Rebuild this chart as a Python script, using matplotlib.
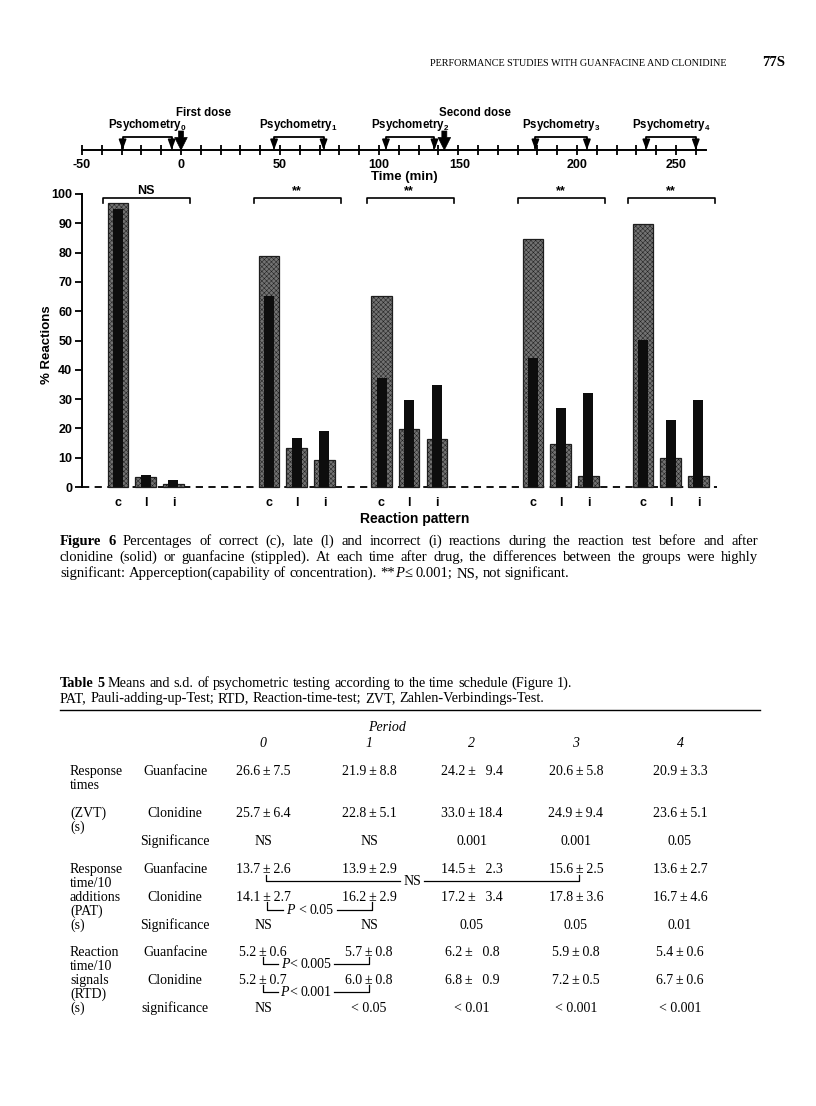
import matplotlib
matplotlib.use('Agg')
import matplotlib.pyplot as plt

plt.rcParams['hatch.linewidth'] = 0.35
plt.rcParams['mathtext.fontset'] = 'custom'
plt.rcParams['mathtext.rm'] = 'Liberation Sans:bold'
plt.rcParams['mathtext.it'] = 'Liberation Sans:bold'
plt.rcParams['mathtext.bf'] = 'Liberation Sans:bold'

# ---------------- data ----------------
categories = ['c', 'l', 'i']
guanfacine_pct = [[97.0, 3.4, 1.1],
                  [79.0, 13.2, 9.2],
                  [65.3, 19.7, 16.5],
                  [84.8, 14.7, 3.7],
                  [89.9, 10.0, 3.7]]
clonidine_pct = [[95.0, 4.0, 2.4],
                 [65.3, 16.7, 19.2],
                 [37.3, 29.6, 34.7],
                 [43.9, 26.8, 32.1],
                 [50.3, 22.7, 29.7]]
significance = ['NS', '**', '**', '**', '**']
y_ticks = [0, 10, 20, 30, 40, 50, 60, 70, 80, 90, 100]

time_labels = [-50, 0, 50, 100, 150, 200, 250]
psychometry_windows = [(-29.5, -4.7), (47.0, 72.0), (103.5, 128.0), (179.0, 205.0), (235.0, 260.0)]
dose_times = [0, 133]
dose_labels = ['First dose', 'Second dose']

TS = '\u2009'
PM = TS + '\u00b1' + TS
period_labels = ['0', '1', '2', '3', '4']
zvt_guanfacine = ['26.6' + PM + '7.5', '21.9' + PM + '8.8', '24.2' + PM + '  9.4', '20.6' + PM + '5.8', '20.9' + PM + '3.3']
zvt_clonidine = ['25.7' + PM + '6.4', '22.8' + PM + '5.1', '33.0' + PM + '18.4', '24.9' + PM + '9.4', '23.6' + PM + '5.1']
zvt_signif = ['NS', 'NS', '0.001', '0.001', '0.05']
pat_guanfacine = ['13.7' + PM + '2.6', '13.9' + PM + '2.9', '14.5' + PM + '  2.3', '15.6' + PM + '2.5', '13.6' + PM + '2.7']
pat_clonidine = ['14.1' + PM + '2.7', '16.2' + PM + '2.9', '17.2' + PM + '  3.4', '17.8' + PM + '3.6', '16.7' + PM + '4.6']
pat_signif = ['NS', 'NS', '0.05', '0.05', '0.01']
rtd_guanfacine = ['5.2' + PM + '0.6', '5.7' + PM + '0.8', '6.2' + PM + '  0.8', '5.9' + PM + '0.8', '5.4' + PM + '0.6']
rtd_clonidine = ['5.2' + PM + '0.7', '6.0' + PM + '0.8', '6.8' + PM + '  0.9', '7.2' + PM + '0.5', '6.7' + PM + '0.6']
rtd_signif = ['NS', '< 0.05', '< 0.01', '< 0.001', '< 0.001']

# ---------------- page ----------------
W, H = 816, 1106
fig = plt.figure(figsize=(W / 100, H / 100), dpi=100)
fig.patch.set_facecolor('white')
renderer = fig.canvas.get_renderer()

axP = fig.add_axes([0, 0, 1, 1])
axP.set_xlim(0, W)
axP.set_ylim(H, 0)
axP.axis('off')

SANS = 'Liberation Sans'
SERIF = ['Liberation Serif', 'DejaVu Serif']


def T(x, y, s, size=10, family=SERIF, weight='normal', style='normal', ha='left', va='baseline', **kw):
    return axP.text(x, y, s, fontsize=size, family=family, weight=weight, style=style,
                    ha=ha, va=va, **kw)


def wpx(t):
    return t.get_window_extent(renderer).width


def fitT(x0, x1, y, s, **kw):
    t = T(x0, y, s, size=10, **kw)
    t.set_fontsize(10 * (x1 - x0) / wpx(t))
    return t


def run(x, y, segs, size=10, family=SERIF, x_end=None):
    words = []
    for seg in segs:
        text, wt, st = seg[:3]
        glue = seg[3] if len(seg) > 3 else False
        parts = [p for p in text.split(' ') if p != '']
        for k, p in enumerate(parts):
            if k == 0 and glue and words:
                words[-1].append((p, wt, st))
            else:
                words.append([(p, wt, st)])
    objs, lens = [], []
    for w in words:
        pieces, tot = [], 0.0
        for p, wt, st in w:
            t = T(0, y, p, size=size, family=family, weight=wt, style=st)
            wd = wpx(t)
            pieces.append((t, wd))
            tot += wd
        objs.append(pieces)
        lens.append(tot)
    a = T(0, y, 'a a', size=size, family=family)
    b = T(0, y, 'aa', size=size, family=family)
    sp = wpx(a) - wpx(b)
    a.remove(); b.remove()
    if x_end is not None and len(words) > 1:
        gap = (x_end - x - sum(lens)) / (len(words) - 1)
    else:
        gap = sp
    cx = x
    for pieces in objs:
        for t, wd in pieces:
            t.set_x(cx)
            cx += wd
        cx += gap
    return cx


# header
fitT(430, 726, 66, 'PERFORMANCE STUDIES WITH GUANFACINE AND CLONIDINE')
T(762, 66, '77S', size=10.5, weight='bold')

# ---------------- timeline ----------------
tl_left, ppm = 82, 1.98
t0, t1 = -50, 265
tl_right = tl_left + (t1 - t0) * ppm
tl_y = 150
axT = fig.add_axes([tl_left / W, 1 - tl_y / H, (tl_right - tl_left) / W, 55 / H])
axT.set_xlim(t0, t1)
axT.set_ylim(0, 55)
axT.patch.set_alpha(0)
for s in ['top', 'left', 'right']:
    axT.spines[s].set_visible(False)
axT.spines['bottom'].set_linewidth(1.4)
axT.set_yticks([])
axT.set_xticks(list(range(-50, 261, 10)))
axT.tick_params(axis='x', direction='inout', length=7, width=1.3, labelbottom=False)
label_shift = {150: -9}
for t in time_labels:
    axT.text(t + label_shift.get(t, 0), -15, str(t), ha='center', va='center',
             fontsize=9, family=SANS, weight='bold', clip_on=False)
axT.text(113, -27, 'Time (min)', ha='center', va='center', fontsize=9.5, family=SANS,
         weight='bold', clip_on=False)
for k, (a, b) in enumerate(psychometry_windows):
    axT.plot([a, a, b, b], [2, 13, 13, 2], color='black', lw=1.3, clip_on=False)
    for xx in (a, b):
        axT.annotate('', xy=(xx, 0), xytext=(xx, 6),
                     arrowprops=dict(arrowstyle='-|>,head_length=0.6,head_width=0.22',
                                     mutation_scale=10, color='black', lw=1.2,
                                     shrinkA=0, shrinkB=0))
    axT.text((a + b) / 2, 25, 'Psychometry$_{%d}$' % k, ha='center', va='center',
             fontsize=8.3, family=SANS, weight='bold')
for tt, lab in zip(dose_times, dose_labels):
    axT.annotate('', xy=(tt, 0), xytext=(tt, 19),
                 arrowprops=dict(arrowstyle='simple,head_length=0.75,head_width=0.75,tail_width=0.3',
                                 mutation_scale=12, fc='black', ec='black', lw=0.5,
                                 shrinkA=0, shrinkB=0))
    axT.text(tt - 2.5, 37, lab, ha='left', va='center', fontsize=8.3, family=SANS, weight='bold')

# ---------------- bar chart ----------------
ch_left, ch_right = 82, 730
y0_px, y100_px = 487, 194
ppu = (y0_px - y100_px) / 100
ylo, yhi = -2, 106
bot_px = y0_px - ylo * ppu
top_px = y100_px - (yhi - 100) * ppu
axC = fig.add_axes([ch_left / W, 1 - bot_px / H, (ch_right - ch_left) / W, (bot_px - top_px) / H])
axC.set_xlim(ch_left, ch_right)
axC.set_ylim(ylo, yhi)
axC.patch.set_alpha(0)

group_c_px = [118, 269, 381.5, 533, 643]
bar_step = 27.7
stip_w, solid_w = 20.5, 10

xs_all, lab_all = [], []
for g in range(len(group_c_px)):
    xs = [group_c_px[g] + k * bar_step for k in range(len(categories))]
    axC.bar(xs, guanfacine_pct[g], width=stip_w, facecolor='#727272', edgecolor='#1e1e1e',
            hatch='xxxxxxx', lw=0.9, zorder=2)
    axC.bar(xs, clonidine_pct[g], width=solid_w, color='#0d0d0d', lw=0, zorder=3)
    xs_all += xs
    lab_all += categories
    x0, x1 = group_c_px[g] - 15, group_c_px[g] + 72
    axC.plot([x0, x0, x1, x1], [97.0, 98.6, 98.6, 97.0], color='black', lw=1.2,
             clip_on=False, zorder=4)
    axC.text(group_c_px[g] + bar_step, 100.9, significance[g], ha='center', va='center',
             fontsize=9, family=SANS, weight='bold')

axC.axhline(0, xmin=0, xmax=(717 - ch_left) / (ch_right - ch_left), color='black', lw=1.3,
            ls=(0, (4, 3)), zorder=1)
for s in ['top', 'right', 'bottom']:
    axC.spines[s].set_visible(False)
axC.spines['left'].set_bounds(0, 100)
axC.spines['left'].set_linewidth(1.4)
axC.set_yticks(y_ticks)
axC.set_yticklabels([str(v) for v in y_ticks], fontsize=9, family=SANS, weight='bold')
axC.tick_params(axis='y', direction='out', length=5, width=1.3, pad=2)
axC.set_xticks(xs_all)
axC.set_xticklabels(lab_all, fontsize=9, family=SANS, weight='bold')
axC.tick_params(axis='x', length=0, pad=3)

T(47, 345, '% Reactions', size=9.5, family=SANS, weight='bold', rotation=90, ha='center', va='center')
T(415, 519, 'Reaction pattern', size=10, family=SANS, weight='bold', ha='center', va='center')

# ---------------- figure caption ----------------
R, B, I = 'normal', 'bold', 'italic'
CS = 10.5
run(60, 545, [('Figure 6', B, R), ('Percentages of correct (c), late (l) and incorrect (i) reactions '
                                 'during the reaction test before and after', R, R)], size=CS, x_end=758)
run(60, 561, [('clonidine (solid) or guanfacine (stippled). At each time after drug, the differences '
               'between the groups were highly', R, R)], size=CS, x_end=758)
run(60, 577, [('significant: Apperception(capability of concentration). **', R, R),
              ('P', R, I, True), ('\u2264 0.001; NS, not significant.', R, R, True)], size=CS)

# ---------------- table ----------------
run(60, 687, [('Table 5', B, R), ('  Means and s.d. of psychometric testing according to the time '
                                 'schedule (Figure 1).', R, R)], size=10.3)
run(60, 702, [('PAT, Pauli-adding-up-Test; RTD, Reaction-time-test; ZVT, Zahlen-Verbindings-Test.', R, R)],
    size=10.3)
axP.plot([60, 760], [710, 710], color='black', lw=1.0)

col_x = [263, 369, 472, 576, 680]
lab_x, grp_x = 70, 175
T(387, 731, 'Period', style='italic', ha='center')
for cx, p in zip(col_x, period_labels):
    T(cx, 747, p, style='italic', ha='center')


def row(y, cells):
    out = []
    for cx, s in zip(col_x, cells):
        out.append(T(cx, y + 4, s, ha='center'))
    return out


def pm_x(t):
    s = t.get_text()
    k = s.index('\u00b1')
    tmp = T(0, 0, s[:k] + 'x', size=t.get_fontsize())
    tx = T(0, 0, 'x', size=t.get_fontsize())
    tpm = T(0, 0, '\u00b1', size=t.get_fontsize())
    full = wpx(t)
    x = t.get_position()[0] - full / 2 + wpx(tmp) - wpx(tx) + wpx(tpm) / 2
    tmp.remove(); tpm.remove(); tx.remove()
    return x


# ZVT block
for y, s in [(771, 'Response'), (785, 'times'), (813, '(ZVT)'), (827, '(s)')]:
    T(lab_x, y + 4, s)
T(grp_x, 775, 'Guanfacine', ha='center')
T(grp_x, 817, 'Clonidine', ha='center')
T(grp_x, 845, 'Significance', ha='center')
row(771, zvt_guanfacine)
row(813, zvt_clonidine)
row(841, zvt_signif)

# PAT block
for y, s in [(869, 'Response'), (883, 'time/10'), (897, 'additions'), (911, '(PAT)'), (925, '(s)')]:
    T(lab_x, y + 4, s)
T(grp_x, 873, 'Guanfacine', ha='center')
T(grp_x, 901, 'Clonidine', ha='center')
T(grp_x, 929, 'Significance', ha='center')
pg = row(869, pat_guanfacine)
pc = row(897, pat_clonidine)
row(925, pat_signif)

# RTD block
for y, s in [(952, 'Reaction'), (966, 'time/10'), (980, 'signals'), (994, '(RTD)'), (1008, '(s)')]:
    T(lab_x, y + 4, s)
T(grp_x, 956, 'Guanfacine', ha='center')
T(grp_x, 984, 'Clonidine', ha='center')
T(grp_x, 1012, 'significance', ha='center')
rg = row(952, rtd_guanfacine)
rc = row(980, rtd_clonidine)
row(1008, rtd_signif)


def table_bracket(xa, xb, y_top, y_line, label_segs, xc):
    n_before = len(axP.texts)
    run(0, y_line + 4, label_segs, size=10)
    new = axP.texts[n_before:]
    xs0 = [t.get_position()[0] for t in new]
    tw = max(t.get_position()[0] + wpx(t) for t in new) - min(xs0)
    left = xc - tw / 2
    for t, x0 in zip(new, xs0):
        t.set_x(left + x0)
    axP.plot([xa, xa, left - 3], [y_top, y_line, y_line], color='black', lw=0.9)
    axP.plot([left + tw + 3, xb, xb], [y_line, y_line, y_top], color='black', lw=0.9)


table_bracket(pm_x(pg[0]), pm_x(pg[3]), 875, 881, [('NS', R, R)], 412)
table_bracket(pm_x(pc[0]), pm_x(pc[1]), 902, 910, [('P', R, I), ('< 0.05', R, R)], 310)
table_bracket(pm_x(rg[0]), pm_x(rg[1]), 957, 964, [('P', R, I), ('< 0.005', R, R, True)], 306)
table_bracket(pm_x(rc[0]), pm_x(rc[1]), 985, 992, [('P', R, I), ('< 0.001', R, R, True)], 306)

fig.savefig('out.png', dpi=100, facecolor='white')
